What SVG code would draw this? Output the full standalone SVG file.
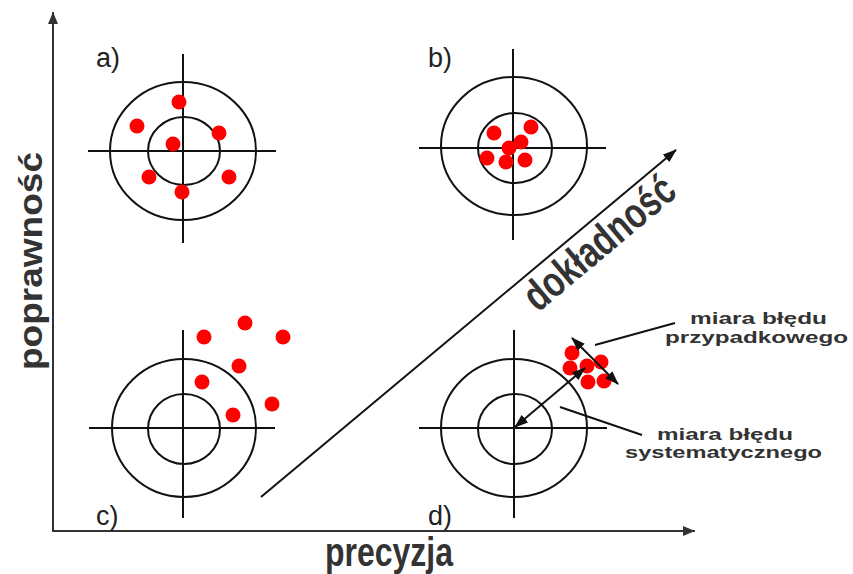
<svg xmlns="http://www.w3.org/2000/svg" width="853" height="574" viewBox="0 0 853 574">
<style>
.ring{fill:none;stroke:#111;stroke-width:2}
.cross{stroke:#111;stroke-width:2}
.dot{fill:#f00}
.lbl{font-family:"Liberation Sans",Arial,sans-serif;font-size:27px;fill:#222}
.big{font-family:"Liberation Sans",Arial,sans-serif;font-weight:bold;fill:#333}
.small{font-family:"Liberation Sans",Arial,sans-serif;font-weight:bold;font-size:16px;fill:#333}
.ax{stroke:#333;stroke-width:2;fill:none}
.ln{stroke:#111;stroke-width:2;fill:none}
</style>
<defs>
<marker id="ah" markerUnits="userSpaceOnUse" markerWidth="14" markerHeight="10" refX="13" refY="5" orient="auto-start-reverse">
<path d="M0,0 L14,5 L0,10 z" fill="#111"/>
</marker>
<marker id="axh" markerUnits="userSpaceOnUse" markerWidth="12" markerHeight="10" refX="12" refY="5" orient="auto">
<path d="M0,0 L12,5 L0,10 z" fill="#333"/>
</marker>
</defs>
<rect width="853" height="574" fill="#fff"/>

<g id="axes">
<line class="ax" x1="53" y1="531" x2="53" y2="12" marker-end="url(#axh)"/>
<line class="ax" x1="52" y1="531" x2="695" y2="531" marker-end="url(#axh)"/>
<text class="big" font-size="33" transform="translate(42,370) rotate(-90)" textLength="218" lengthAdjust="spacingAndGlyphs">poprawność</text>
<text class="big" font-size="40" x="325" y="566" textLength="128" lengthAdjust="spacingAndGlyphs">precyzja</text>
</g>

<g id="target-a">
<ellipse class="ring" cx="183" cy="151" rx="73" ry="69"/>
<ellipse class="ring" cx="184" cy="151" rx="36" ry="34"/>
<line class="cross" x1="88" y1="151" x2="276" y2="151"/>
<line class="cross" x1="183" y1="54" x2="183" y2="243"/>
<circle class="dot" cx="179" cy="102" r="7.5"/>
<circle class="dot" cx="137" cy="126" r="7.5"/>
<circle class="dot" cx="219" cy="133" r="7.5"/>
<circle class="dot" cx="173" cy="144" r="7.5"/>
<circle class="dot" cx="149" cy="177" r="7.5"/>
<circle class="dot" cx="229" cy="177" r="7.5"/>
<circle class="dot" cx="182" cy="192" r="7.5"/>
<text class="lbl" x="96" y="67">a)</text>
</g>

<g id="target-b">
<ellipse class="ring" cx="514" cy="146" rx="73" ry="69"/>
<ellipse class="ring" cx="515" cy="148" rx="37" ry="35"/>
<line class="cross" x1="419" y1="148" x2="606" y2="148"/>
<line class="cross" x1="513" y1="49" x2="513" y2="240"/>
<circle class="dot" cx="494" cy="133" r="7.5"/>
<circle class="dot" cx="531" cy="127" r="7.5"/>
<circle class="dot" cx="521" cy="142" r="7.5"/>
<circle class="dot" cx="509" cy="148" r="7.5"/>
<circle class="dot" cx="487" cy="158" r="7.5"/>
<circle class="dot" cx="506" cy="162" r="7.5"/>
<circle class="dot" cx="525" cy="160" r="7.5"/>
<text class="lbl" x="428" y="67">b)</text>
</g>

<g id="target-c">
<ellipse class="ring" cx="184" cy="428" rx="72" ry="69"/>
<ellipse class="ring" cx="184" cy="429" rx="36" ry="35"/>
<line class="cross" x1="89" y1="428" x2="275" y2="428"/>
<line class="cross" x1="183" y1="330" x2="183" y2="518"/>
<circle class="dot" cx="204" cy="337" r="7.5"/>
<circle class="dot" cx="245" cy="323" r="7.5"/>
<circle class="dot" cx="283" cy="337" r="7.5"/>
<circle class="dot" cx="239" cy="366" r="7.5"/>
<circle class="dot" cx="202" cy="382" r="7.5"/>
<circle class="dot" cx="272" cy="404" r="7.5"/>
<circle class="dot" cx="233" cy="415" r="7.5"/>
<text class="lbl" x="96" y="525">c)</text>
</g>

<g id="target-d">
<ellipse class="ring" cx="514" cy="428" rx="73" ry="69"/>
<ellipse class="ring" cx="515" cy="429" rx="37" ry="35"/>
<line class="cross" x1="419" y1="428" x2="607" y2="428"/>
<line class="cross" x1="514" y1="330" x2="514" y2="518"/>
<circle class="dot" cx="572" cy="353" r="7.5"/>
<circle class="dot" cx="570" cy="368" r="7.5"/>
<circle class="dot" cx="587" cy="366" r="7.5"/>
<circle class="dot" cx="601" cy="362" r="7.5"/>
<circle class="dot" cx="588" cy="382" r="7.5"/>
<circle class="dot" cx="604" cy="381" r="7.5"/>
<text class="lbl" x="428" y="525">d)</text>
</g>

<g id="label-random">
<text class="small" x="690" y="324" textLength="137" lengthAdjust="spacingAndGlyphs">miara błędu</text>
<text class="small" x="665" y="343" textLength="183" lengthAdjust="spacingAndGlyphs">przypadkowego</text>
</g>
<g id="label-systematic">
<text class="small" x="657" y="440" textLength="136" lengthAdjust="spacingAndGlyphs">miara błędu</text>
<text class="small" x="625" y="458" textLength="197" lengthAdjust="spacingAndGlyphs">systematycznego</text>
</g>
<g id="label-accuracy">
<text class="big" font-size="43" transform="translate(538,313) rotate(-40)" textLength="184" lengthAdjust="spacingAndGlyphs">dokładność</text>
</g>

<g id="connectors">
<line class="ln" x1="261" y1="497" x2="676" y2="150" marker-end="url(#ah)"/>
<line class="ln" x1="572" y1="338" x2="618" y2="384" marker-start="url(#ah)" marker-end="url(#ah)"/>
<line class="ln" x1="585" y1="368" x2="515" y2="427" marker-start="url(#ah)" marker-end="url(#ah)"/>
<line class="ln" stroke-width="3" x1="595" y1="345" x2="675" y2="323"/>
<line class="ln" x1="560" y1="407" x2="642" y2="435"/>
</g>
</svg>
